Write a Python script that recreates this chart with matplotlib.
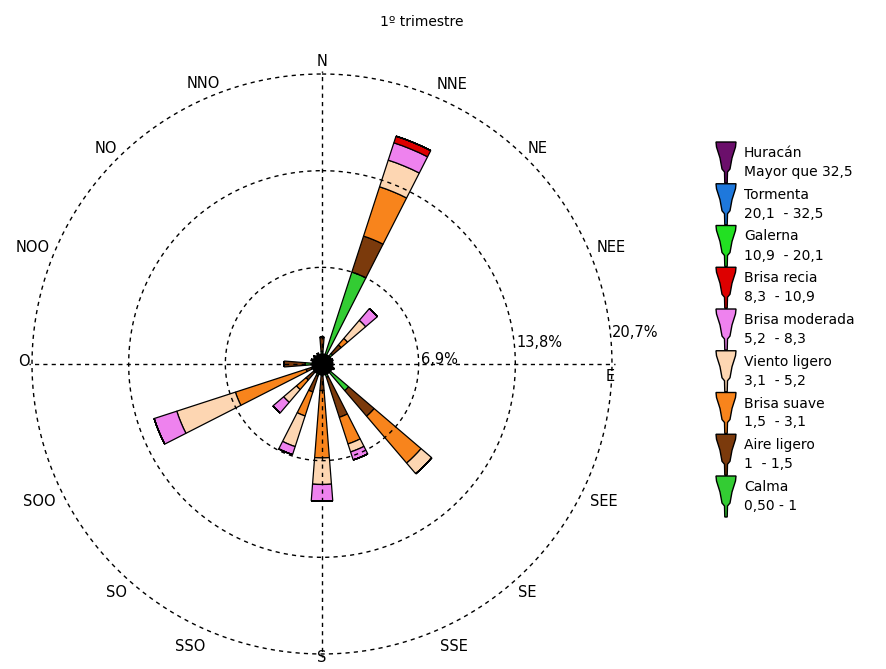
#!/usr/bin/env python3
"""
Rosa de vientos - 1º trimestre
Frecuencia (%) por dirección y clase de velocidad
"""

import numpy as np
import matplotlib
matplotlib.use('Agg')
import matplotlib.pyplot as plt
from matplotlib.patches import Polygon

# Direcciones (sentido horario desde el norte)
directions = ['N', 'NNE', 'NE', 'NEE', 'E', 'SEE', 'SE', 'SSE',
              'S', 'SSO', 'SO', 'SOO', 'O', 'NOO', 'NO', 'NNO']

# Frecuencias (%) por clase, no acumuladas
calma    = [0.9, 6.9, 1.0, 0.6, 0.5, 0.7, 2.5, 1.0, 0.8, 0.9, 0.8, 0.8, 1.2, 0.6, 0.6, 0.6]
aire     = [1.0, 2.7, 0.8, 0.2, 0.2, 0.2, 2.4, 3.0, 1.1, 1.2, 0.7, 0.4, 1.5, 0.2, 0.2, 0.2]
suave    = [0.0, 3.7, 0.6, 0.0, 0.0, 0.0, 4.4, 2.0, 4.8, 1.8, 0.9, 5.3, 0.0, 0.0, 0.0, 0.0]
viento   = [0.0, 2.0, 1.7, 0.0, 0.0, 0.0, 1.0, 0.6, 1.9, 2.3, 1.2, 4.4, 0.0, 0.0, 0.0, 0.0]
moderada = [0.0, 1.3, 1.1, 0.0, 0.0, 0.0, 0.0, 0.6, 1.2, 0.6, 1.0, 1.7, 0.0, 0.0, 0.0, 0.0]
recia    = [0.0, 0.5, 0.0, 0.0, 0.0, 0.0, 0.0, 0.0, 0.0, 0.0, 0.0, 0.0, 0.0, 0.0, 0.0, 0.0]
galerna  = [0.0] * 16
tormenta = [0.0] * 16
huracan  = [0.0] * 16

ring_values = [6.9, 13.8, 20.7]
ring_labels = ['6,9%', '13,8%', '20,7%']

# Clases (de abajo hacia arriba en la pila)
classes = [
    ('Calma', '0,50 - 1', calma, '#33cc33'),
    ('Aire ligero', '1  - 1,5', aire, '#7b3a0c'),
    ('Brisa suave', '1,5  - 3,1', suave, '#f8841c'),
    ('Viento ligero', '3,1  - 5,2', viento, '#fdd6b2'),
    ('Brisa moderada', '5,2  - 8,3', moderada, '#ee82ee'),
    ('Brisa recia', '8,3  - 10,9', recia, '#dd0000'),
    ('Galerna', '10,9  - 20,1', galerna, '#22e022'),
    ('Tormenta', '20,1  - 32,5', tormenta, '#1e78dc'),
    ('Huracán', 'Mayor que 32,5', huracan, '#6b0f6b'),
]

W, H = 887, 669
fig = plt.figure(figsize=(W / 100, H / 100), dpi=100)
plt.rcParams['font.family'] = ['DejaVu Sans']

# polar axes: centro (322, 364) px, radio 290 px
cx, cy, R = 322, 364, 290
px_per_pct = R / ring_values[-1]
ax = fig.add_axes([(cx - R) / W, (H - cy - R) / H, 2 * R / W, 2 * R / H],
                  projection='polar')
ax.set_theta_zero_location('N')
ax.set_theta_direction(-1)
ax.set_ylim(0, ring_values[-1])
ax.set_axis_off()

theta = np.deg2rad(np.arange(16) * 22.5)
width = np.deg2rad(9)
bottom = np.zeros(16)
for name, rng, vals, color in classes:
    vals = np.array(vals)
    ax.bar(theta, vals, width=width, bottom=bottom, color=color,
           edgecolor='black', linewidth=0.9, zorder=3)
    bottom += vals

# nudo negro del centro
ax.plot([0], [0], 'o', color='black', ms=15, zorder=4)

# rejilla a trazos encima de las barras
t = np.linspace(0, 2 * np.pi, 400)
for rv in ring_values:
    ax.plot(t, np.full_like(t, rv), color='black', lw=1, ls=(0, (3, 3)),
            zorder=5, clip_on=False)
for a in [0, 90, 180, 270]:
    ax.plot([np.deg2rad(a)] * 2, [0, 20.9], color='black', lw=1,
            ls=(0, (3, 3)), zorder=5, clip_on=False)

# etiquetas de anillos
offsets = [(2, 4), (1, 21), (0, 31)]
for rv, lab, off in zip(ring_values, ring_labels, offsets):
    ax.annotate(lab, xy=(np.pi / 2, rv), xytext=off, textcoords='offset pixels',
                ha='left', va='center', fontsize=10.5, zorder=6)

# etiquetas de dirección: (ángulo en grados, radio en px)
label_pos = [(0, 302), (25, 308), (45, 305), (68, 312), (92.4, 288),
             (116, 314), (138, 307), (155, 312), (180, 293), (205, 312),
             (222, 307), (244, 314), (270.4, 298), (292, 312), (315, 305),
             (337, 305)]
for (ang, rp), d in zip(label_pos, directions):
    ax.text(np.deg2rad(ang), rp / px_per_pct, d, ha='center', va='center',
            fontsize=10.5, clip_on=False)

fig.text(422 / W, 1 - 22 / H, '1º trimestre', ha='center', va='center',
         fontsize=10)

# leyenda con iconos de embudo
la = fig.add_axes([0, 0, 1, 1])
la.set_xlim(0, W)
la.set_ylim(H, 0)
la.set_axis_off()
la.patch.set_alpha(0)

shape = np.array([(-10, 0), (10, 0), (9.5, 5), (6, 16), (4, 27), (1.5, 30),
                  (1.2, 41), (-1.2, 41), (-1.5, 30), (-4, 27), (-6, 16), (-9.5, 5)])
icon_x, top0, step = 726, 142, 41.75
for i, (name, rng, vals, color) in enumerate(classes[::-1]):
    y0 = top0 + i * step
    pts = shape + np.array([icon_x, y0])
    la.add_patch(Polygon(pts, closed=True, facecolor=color, edgecolor='black',
                         lw=1))
    la.text(744, y0 + 11, name, ha='left', va='center', fontsize=10)
    la.text(744, y0 + 30, rng, ha='left', va='center', fontsize=10)

plt.savefig('out.png', dpi=100)
print("[PLOT] Saved out.png")
